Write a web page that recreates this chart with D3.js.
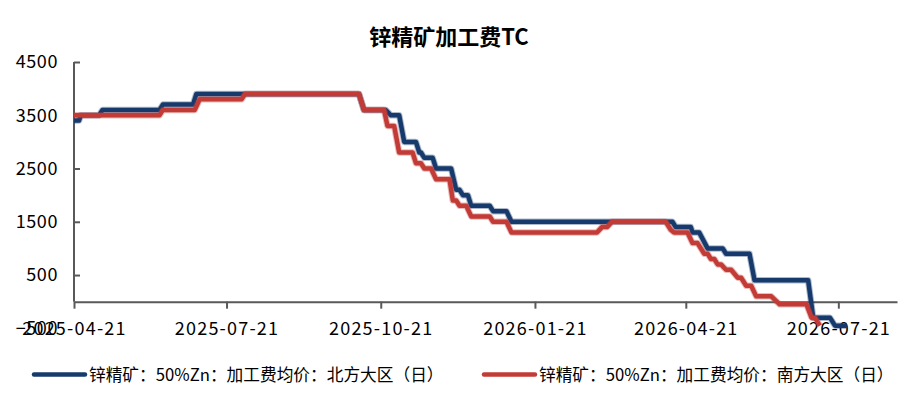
<!DOCTYPE html>
<html><head><meta charset="utf-8">
<script src="https://cdn.jsdelivr.net/npm/d3@7"></script>
<style>body{margin:0;background:#fff} svg{display:block}</style>
</head><body><svg id="c" width="912" height="403"></svg>
<script>
const title = "锌精矿加工费TC";
const seriesNames = ["锌精矿：50%Zn：加工费均价：北方大区（日）", "锌精矿：50%Zn：加工费均价：南方大区（日）"];
const seriesColors = ["#173a6c", "#c23b36"];
const yTicks = [-500, 500, 1500, 2500, 3500, 4500];
const xTickLabels = ["2025-04-21", "2025-07-21", "2025-10-21", "2026-01-21", "2026-04-21", "2026-07-21"];
const xDomain = ["2025-04-21", "2026-08-25"];

const northDates = ["2025-04-21","2025-04-24","2025-04-25","2025-05-06","2025-05-08","2025-06-11","2025-06-13","2025-07-01","2025-07-03","2025-10-08","2025-10-11","2025-10-24","2025-10-27","2025-11-01","2025-11-04","2025-11-11","2025-11-13","2025-11-14","2025-11-16","2025-11-21","2025-11-23","2025-12-02","2025-12-05","2025-12-07","2025-12-09","2025-12-12","2025-12-14","2025-12-25","2025-12-27","2026-01-04","2026-01-07","2026-04-13","2026-04-15","2026-04-24","2026-04-25","2026-04-29","2026-05-04","2026-05-13","2026-05-15","2026-05-29","2026-06-01","2026-07-03","2026-07-06","2026-07-16","2026-07-19","2026-07-26"];
const northValues = [3400,3400,3500,3500,3600,3600,3700,3700,3900,3900,3600,3600,3500,3500,3000,3000,2800,2800,2700,2700,2500,2500,2100,2100,2000,2000,1800,1800,1700,1700,1500,1500,1400,1400,1300,1300,1000,1000,900,900,400,400,-300,-300,-450,-450];

const southDates = ["2025-04-21","2025-06-11","2025-06-13","2025-07-02","2025-07-05","2025-07-30","2025-08-01","2025-10-08","2025-10-11","2025-10-23","2025-10-25","2025-10-29","2025-11-01","2025-11-09","2025-11-11","2025-11-14","2025-11-16","2025-11-20","2025-11-23","2025-12-01","2025-12-03","2025-12-05","2025-12-07","2025-12-11","2025-12-14","2025-12-25","2025-12-27","2026-01-04","2026-01-07","2026-02-27","2026-03-02","2026-03-05","2026-03-08","2026-04-09","2026-04-12","2026-04-14","2026-04-22","2026-04-25","2026-04-28","2026-05-02","2026-05-04","2026-05-06","2026-05-08","2026-05-10","2026-05-12","2026-05-15","2026-05-18","2026-05-22","2026-05-24","2026-05-27","2026-05-30","2026-06-02","2026-06-11","2026-06-16","2026-07-02","2026-07-05","2026-07-07","2026-07-10"];
const southValues = [3500,3500,3600,3600,3800,3800,3900,3900,3600,3600,3300,3300,2800,2800,2600,2600,2500,2500,2300,2300,1900,1900,1800,1800,1600,1600,1500,1500,1300,1300,1400,1400,1500,1500,1350,1300,1300,1100,1100,900,900,800,800,700,700,600,600,450,450,300,300,100,100,-50,-50,-300,-300,-450];

const parse = d3.timeParse("%Y-%m-%d");
const fmt = d3.timeFormat("%Y-%m-%d");
const svg = d3.select("#c");
const fontCJK = "'Noto Sans CJK SC','Microsoft YaHei',sans-serif";

const x = d3.scaleTime().domain(xDomain.map(parse)).range([74, 897]);
const y = d3.scaleLinear().domain([-500, 4500]).range([328.3, 62]);

// Title
svg.append("text").attr("x", 449).attr("y", 45).attr("text-anchor", "middle")
  .attr("font-family", fontCJK).attr("font-weight", "bold").attr("font-size", 22)
  .attr("fill", "#000").text(title);

// Y axis
const yAxis = svg.append("g").attr("transform", "translate(74,0)")
  .call(d3.axisLeft(y).tickValues(yTicks).tickFormat(d3.format("d")).tickSizeInner(-6).tickSizeOuter(0).tickPadding(16));
yAxis.select(".domain").remove();
yAxis.selectAll(".tick line").attr("stroke", "#595959").attr("stroke-width", 2)
  .filter(d => d < 0).remove();
yAxis.selectAll(".tick text").attr("font-family", fontCJK).attr("font-size", 18).attr("fill", "#000")
  .attr("letter-spacing", 0.6);
yAxis.append("line").attr("x1", 0).attr("x2", 0).attr("y1", y(4500)).attr("y2", y(0))
  .attr("stroke", "#595959").attr("stroke-width", 2);

// X axis at zero
const xAxis = svg.append("g").attr("transform", `translate(0,${y(0)})`)
  .call(d3.axisBottom(x).tickValues(xTickLabels.map(parse)).tickFormat(fmt).tickSizeInner(7).tickSizeOuter(0).tickPadding(14));
xAxis.select(".domain").attr("stroke", "#595959").attr("stroke-width", 2);
xAxis.selectAll(".tick line").attr("stroke", "#595959").attr("stroke-width", 2);
xAxis.selectAll(".tick text").attr("font-family", fontCJK).attr("font-size", 18).attr("fill", "#000")
  .attr("letter-spacing", 1.2);

// Lines
const line = d3.line().x(d => x(d[0])).y(d => y(d[1])).curve(d3.curveLinear);
const north = northDates.map((d, i) => [parse(d), northValues[i]]);
const south = southDates.map((d, i) => [parse(d), southValues[i]]);
[north, south].forEach((data, i) => {
  svg.append("path").datum(data).attr("d", line).attr("fill", "none")
    .attr("stroke", seriesColors[i]).attr("stroke-opacity", 0.35).attr("stroke-width", 6.5)
    .attr("stroke-linejoin", "round");
  svg.append("path").datum(data).attr("d", line).attr("fill", "none")
    .attr("stroke", seriesColors[i]).attr("stroke-width", 4.5)
    .attr("stroke-linejoin", "round");
});

// Legend
const legendX = [34, 484];
seriesNames.forEach((name, i) => {
  const g = svg.append("g").attr("transform", `translate(${legendX[i]},374.5)`);
  g.append("line").attr("x1", 0).attr("x2", 51).attr("y1", 0).attr("y2", 0)
    .attr("stroke", seriesColors[i]).attr("stroke-width", 4.5).attr("stroke-linecap", "round");
  g.append("text").attr("x", 55).attr("y", 6.5).attr("font-family", fontCJK).attr("font-size", 16.7)
    .attr("fill", "#000").text(name);
});
</script>
</body></html>
